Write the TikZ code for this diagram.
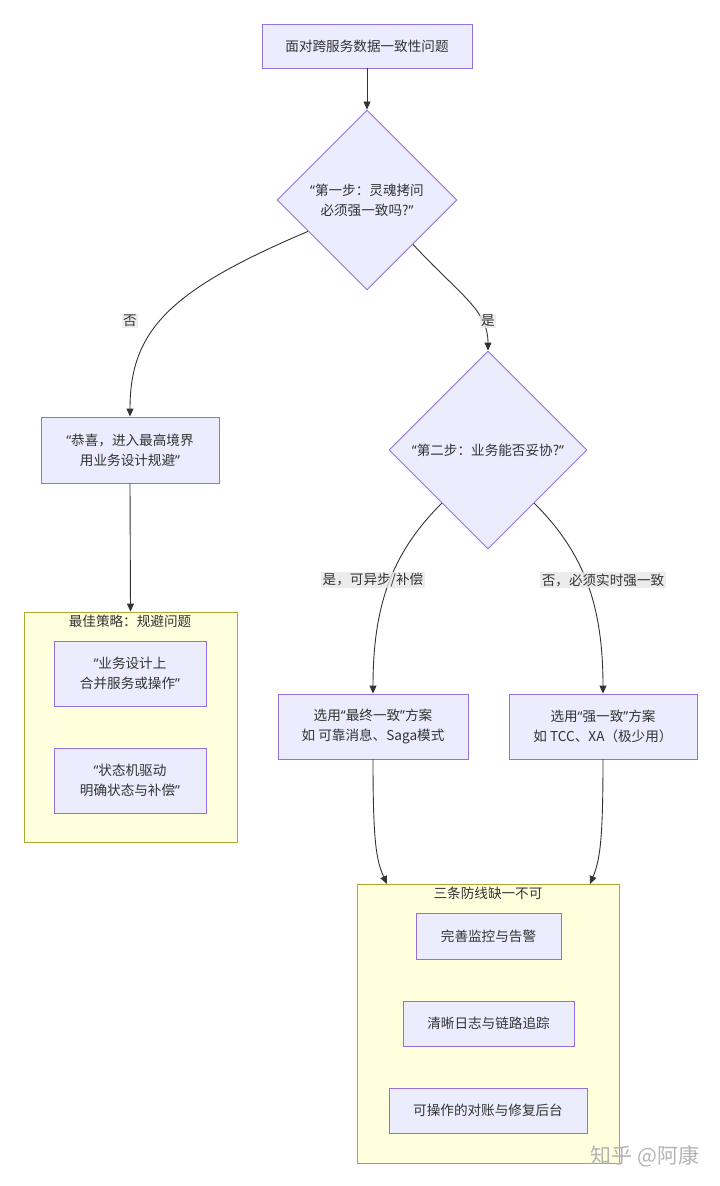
\documentclass[tikz,border=0pt]{standalone}
\usepackage{fontspec}
\setmainfont{Noto Sans CJK SC}
\newfontfamily\latf{Noto Sans}
\usetikzlibrary{shapes.geometric,arrows.meta}
\definecolor{nodefill}{HTML}{ECECFF}
\definecolor{nodestroke}{HTML}{9370DB}
\definecolor{clusterfill}{HTML}{FFFFDE}
\definecolor{clusterstroke}{HTML}{AAAA33}
\definecolor{textc}{HTML}{333333}
\definecolor{labelbg}{HTML}{E8E8E8}
\definecolor{wmark}{HTML}{B4B4B4}
\newcommand\qo{{\latf “}}
\newcommand\qc{{\latf ”}}
\begin{document}
\begin{tikzpicture}[x=1pt,y=-1pt,
  every node/.style={font=\fontsize{13.6}{20}\selectfont, text=textc},
  procbox/.style={draw=nodestroke, fill=nodefill, line width=0.9pt, inner sep=0pt, align=center},
  decbox/.style={diamond, aspect=1, draw=nodestroke, fill=nodefill, line width=0.9pt, inner sep=0pt, align=center},
  clusterbox/.style={draw=clusterstroke, fill=clusterfill, line width=0.9pt, inner sep=0pt},
  edgelabel/.style={fill=labelbg, fill opacity=0.8, text opacity=1, inner sep=1.5pt},
  flow/.style={draw=textc, line width=0.9pt, -{Triangle[length=8pt,width=7pt]}},
  plainline/.style={draw=textc, line width=0.9pt}
]
\useasboundingbox[fill=white] (0,0) rectangle (720,1186);

% clusters
\node[clusterbox, minimum width=213pt, minimum height=230pt] (cl1) at (130.5,727) {};
\node at (130,621) (cl1t) {最佳策略：规避问题};
\node[clusterbox, minimum width=262pt, minimum height=279pt] (cl2) at (488,1023.5) {};
\node at (488,893) (cl2t) {三条防线缺一不可};

% nodes
\node[procbox, minimum width=210pt, minimum height=44pt] (start) at (367,46) {面对跨服务数据一致性问题};
\node[decbox, minimum width=180pt, minimum height=180pt] (d1) at (367,200) {\qo 第一步：灵魂拷问\\必须强一致吗?\qc};
\node[procbox, minimum width=178pt, minimum height=66pt] (avoid) at (130,450) {\qo 恭喜，进入最高境界\\用业务设计规避\qc};
\node[decbox, minimum width=198pt, minimum height=198pt] (d2) at (488,450) {\qo 第二步：业务能否妥协?\qc};

\node[procbox, minimum width=152pt, minimum height=65pt] (a1) at (130,673.5) {\qo 业务设计上\\合并服务或操作\qc};
\node[procbox, minimum width=152pt, minimum height=65pt] (a2) at (130,780.5) {\qo 状态机驱动\\明确状态与补偿\qc};

\node[procbox, minimum width=190pt, minimum height=65pt] (ev) at (373,726.5) {选用\qo 最终一致\qc 方案\\如 可靠消息、Saga模式};
\node[procbox, minimum width=188pt, minimum height=65pt] (st) at (603,726.5) {选用\qo 强一致\qc 方案\\如 TCC、XA（极少用）};

\node[procbox, minimum width=145pt, minimum height=46pt] (b1) at (488.5,936) {完善监控与告警};
\node[procbox, minimum width=171pt, minimum height=45pt] (b2) at (488.5,1023.5) {清晰日志与链路追踪};
\node[procbox, minimum width=198pt, minimum height=45pt] (b3) at (488,1110.5) {可操作的对账与修复后台};

% connectors
\draw[flow] (start) -- (d1);
\draw[flow] (d1.208) .. controls (170,290) and (130,330) .. (avoid.north);
\draw[flow] (d1.-44) .. controls (460,295) and (488,310) .. (d2.north);
\draw[flow] (avoid.south) -- (cl1.north);
\draw[flow] (d2.229) .. controls (395,550) and (373,600) .. (ev.north);
\draw[flow] (d2.-49) .. controls (581,550) and (603,600) .. (st.north);
\coordinate (in1) at (387,884);
\coordinate (in2) at (590,884);
\draw[flow] (ev.south) .. controls (373,840) and (376,860) .. (in1);
\draw[flow] (st.south) .. controls (603,840) and (600,860) .. (in2);

% edge labels
\node[edgelabel] (l1) at (130,321) {否};
\node[edgelabel] (l2) at (488,321) {是};
\node[edgelabel] (l3) at (373,580) {是，可异步/补偿};
\node[edgelabel] (l4) at (603,580) {否，必须实时强一致};

% watermark
\node[text=wmark, font=\fontsize{21}{24}\selectfont] (wm) at (645,1156) {知乎 @阿康};
\end{tikzpicture}
\end{document}
